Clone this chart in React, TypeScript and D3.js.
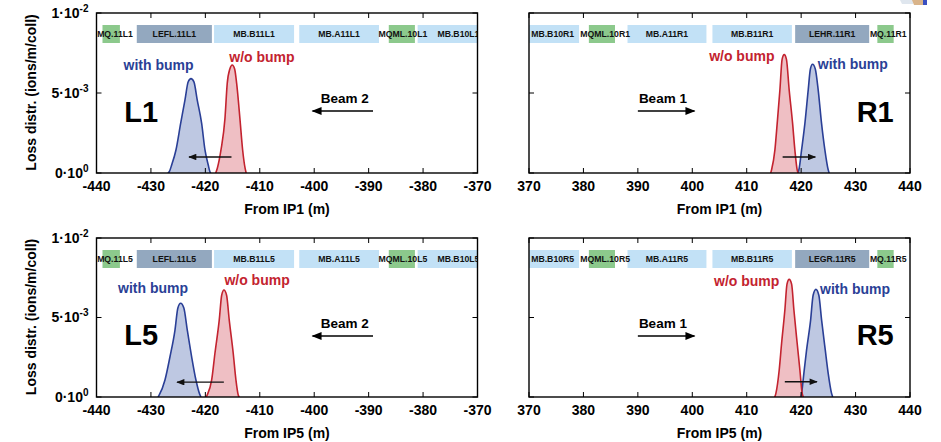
import React from 'react';
import * as d3 from 'd3';

const W = 941;
const H = 442;

// ---- axis ticks ----
const ticksLeft = [-440, -430, -420, -410, -400, -390, -380, -370];
const ticksRight = [370, 380, 390, 400, 410, 420, 430, 440];
const yTickVals = [0, 0.005, 0.01];
const yTickMant = ['0·10', '5·10', '1·10'];
const yTickExp = ['0', '-3', '-2'];

// ---- beamline elements ----
const namesL1 = ['MQ.11L1', 'LEFL.11L1', 'MB.B11L1', 'MB.A11L1', 'MQML.10L1', 'MB.B10L1'];
const namesL5 = ['MQ.11L5', 'LEFL.11L5', 'MB.B11L5', 'MB.A11L5', 'MQML.10L5', 'MB.B10L5'];
const startLeft = [-438.9, -432.6, -418.4, -402.75, -386.3, -381.0];
const endLeft = [-435.7, -418.8, -403.7, -388.1, -381.5, -366.0];
const labelShiftLeft = [0.7, 0, 0, 0, 0.2, 0];
const kindLeft = ['quad', 'absorber', 'dipole', 'dipole', 'quad', 'dipole'];

const namesR1 = ['MB.B10R1', 'MQML.10R1', 'MB.A11R1', 'MB.B11R1', 'LEHR.11R1', 'MQ.11R1'];
const namesR5 = ['MB.B10R5', 'MQML.10R5', 'MB.A11R5', 'MB.B11R5', 'LEGR.11R5', 'MQ.11R5'];
const startRight = [369.5, 381.0, 388.1, 403.7, 418.9, 434.0];
const endRight = [379.2, 385.8, 402.6, 418.3, 432.5, 437.0];
const labelShiftRight = [0, 0.6, 0, 0, 0, 0.5];
const kindRight = ['dipole', 'quad', 'dipole', 'dipole', 'absorber', 'quad'];

// ---- loss distributions (position m, ions/m/coll) ----
const l1WoX = [-418.1, -417.8, -417.13, -416.4, -415.98, -415.5, -415.06, -414.62, -414.25, -413.65, -413.15, -412.7, -412.5];
const l1WoY = [0, 0.0003, 0.00144, 0.0034, 0.0056, 0.0065, 0.00675, 0.0065, 0.0056, 0.0034, 0.00144, 0.0003, 0];
const l1WiX = [-426.9, -426.63, -426.19, -425.4, -424.54, -423.75, -423.15, -422.64, -422.1, -421.49, -420.68, -420.07, -419.47, -419.16, -419.0];
const l1WiY = [0, 0.00008, 0.0005, 0.00144, 0.0031, 0.00456, 0.0057, 0.0059, 0.0057, 0.00456, 0.0031, 0.00144, 0.0005, 0.00008, 0];

const r1WoX = [414.4, 414.57, 415.18, 415.6, 416.1, 416.5, 416.89, 417.3, 417.8, 418.43, 418.85, 419.27, 419.45];
const r1WoY = [0, 0.0002, 0.00144, 0.0031, 0.0052, 0.0071, 0.0074, 0.0071, 0.0052, 0.0031, 0.00144, 0.0002, 0];
const r1WiX = [419.4, 419.59, 420.08, 420.69, 421.3, 421.7, 422.1, 422.6, 423.13, 423.75, 424.36, 424.97, 425.15];
const r1WiY = [0, 0.0002, 0.00144, 0.0031, 0.0052, 0.0065, 0.0068, 0.0065, 0.0052, 0.0031, 0.00144, 0.0002, 0];

const l5WoX = [-419.85, -419.65, -418.84, -418.24, -417.45, -417.0, -416.58, -416.1, -415.61, -414.88, -414.38, -413.96, -413.75];
const l5WoY = [0, 0.00013, 0.00107, 0.00275, 0.00484, 0.0064, 0.00673, 0.0064, 0.00484, 0.00275, 0.00107, 0.00013, 0];
const l5WiX = [-428.7, -428.47, -427.42, -426.5, -425.58, -425.05, -424.54, -423.95, -423.32, -422.52, -421.73, -420.99, -420.8];
const l5WiY = [0, 0.00013, 0.00107, 0.00253, 0.00421, 0.0056, 0.0059, 0.0056, 0.00421, 0.00253, 0.00107, 0.00013, 0];

const r5WoX = [415.15, 415.36, 415.97, 416.41, 417.01, 417.4, 417.8, 418.25, 418.67, 419.27, 419.77, 420.19, 420.4];
const r5WoY = [0, 0.00023, 0.0017, 0.00338, 0.00547, 0.0071, 0.0074, 0.0071, 0.00547, 0.00338, 0.0017, 0.00023, 0];
const r5WiX = [419.85, 420.08, 420.5, 421.0, 421.74, 422.2, 422.71, 423.25, 423.76, 424.43, 424.97, 425.59, 425.8];
const r5WiY = [0, 0.00023, 0.00149, 0.00296, 0.00484, 0.0064, 0.00677, 0.0064, 0.00484, 0.00296, 0.00149, 0.00023, 0];

const FONT = '"Liberation Sans", Arial, Helvetica, sans-serif';
const RED = '#c3232f';
const BLUE = '#2a3f96';
const RED_FILL = 'rgba(224,128,138,0.5)';
const BLUE_FILL = 'rgba(125,145,198,0.5)';
const KIND_COLOR: Record<string, string> = {
  quad: '#8cc98c',
  absorber: '#93a8bf',
  dipole: '#c2e1f6',
};

type PanelCfg = {
  id: string;
  x0: number; x1: number; y0: number; y1: number;
  domain: [number, number];
  ticks: number[];
  names: string[]; starts: number[]; ends: number[]; kinds: string[]; shifts: number[];
  woX: number[]; woY: number[]; wiX: number[]; wiY: number[];
  label: string; labelX: number; labelY: number;
  woLab: [number, number]; wiLab: [number, number];
  beam: string; beamX: number; beamFrom: number; beamTo: number;
  bumpFrom: number; bumpTo: number; bumpY: number;
  xTitle: string; showY: boolean;
};

const panels: PanelCfg[] = [
  {
    id: 'tl', x0: 96.5, x1: 477.5, y0: 13, y1: 173, domain: [-440, -370], ticks: ticksLeft,
    names: namesL1, starts: startLeft, ends: endLeft, kinds: kindLeft, shifts: labelShiftLeft,
    woX: l1WoX, woY: l1WoY, wiX: l1WiX, wiY: l1WiY,
    label: 'L1', labelX: -434.9, labelY: 0.0032,
    woLab: [-409.6, 0.00727], wiLab: [-428.6, 0.00675],
    beam: 'Beam 2', beamX: -394.4, beamFrom: -389.2, beamTo: -400.3,
    bumpFrom: -415.2, bumpTo: -423.0, bumpY: 0.001,
    xTitle: 'From IP1 (m)', showY: true,
  },
  {
    id: 'tr', x0: 529, x1: 910, y0: 13, y1: 173, domain: [370, 440], ticks: ticksRight,
    names: namesR1, starts: startRight, ends: endRight, kinds: kindRight, shifts: labelShiftRight,
    woX: r1WoX, woY: r1WoY, wiX: r1WiX, wiY: r1WiY,
    label: 'R1', labelX: 430.2, labelY: 0.0032,
    woLab: [409.1, 0.0073], wiLab: [429.5, 0.0068],
    beam: 'Beam 1', beamX: 394.6, beamFrom: 390.0, beamTo: 400.4,
    bumpFrom: 416.6, bumpTo: 422.6, bumpY: 0.001,
    xTitle: 'From IP1 (m)', showY: false,
  },
  {
    id: 'bl', x0: 96.5, x1: 477.5, y0: 238, y1: 397, domain: [-440, -370], ticks: ticksLeft,
    names: namesL5, starts: startLeft, ends: endLeft, kinds: kindLeft, shifts: labelShiftLeft,
    woX: l5WoX, woY: l5WoY, wiX: l5WiX, wiY: l5WiY,
    label: 'L5', labelX: -434.9, labelY: 0.0033,
    woLab: [-410.5, 0.00736], wiLab: [-429.6, 0.00686],
    beam: 'Beam 2', beamX: -394.4, beamFrom: -389.2, beamTo: -400.3,
    bumpFrom: -416.6, bumpTo: -425.2, bumpY: 0.00093,
    xTitle: 'From IP5 (m)', showY: true,
  },
  {
    id: 'br', x0: 529, x1: 910, y0: 238, y1: 397, domain: [370, 440], ticks: ticksRight,
    names: namesR5, starts: startRight, ends: endRight, kinds: kindRight, shifts: labelShiftRight,
    woX: r5WoX, woY: r5WoY, wiX: r5WiX, wiY: r5WiY,
    label: 'R5', labelX: 430.2, labelY: 0.0033,
    woLab: [410.0, 0.00731], wiLab: [429.9, 0.00679],
    beam: 'Beam 1', beamX: 394.6, beamFrom: 390.0, beamTo: 400.4,
    bumpFrom: 417.0, bumpTo: 422.9, bumpY: 0.00096,
    xTitle: 'From IP5 (m)', showY: false,
  },
];

function Panel({ p }: { p: PanelCfg }) {
  const x = d3.scaleLinear().domain(p.domain).range([p.x0, p.x1]);
  const y = d3.scaleLinear().domain([0, 0.01]).range([p.y1, p.y0]);
  const curve = d3.curveMonotoneX;
  const area = d3.area<[number, number]>()
    .x(d => x(d[0])).y0(y(0)).y1(d => y(d[1])).curve(curve);
  const line = d3.line<[number, number]>()
    .x(d => x(d[0])).y(d => y(d[1])).curve(curve);
  const wo = p.woX.map((v, i) => [v, p.woY[i]] as [number, number]);
  const wi = p.wiX.map((v, i) => [v, p.wiY[i]] as [number, number]);
  const clipId = `clip-${p.id}`;
  const barTop = p.y0 + 12;
  const barH = 18;
  const tickLen = 5;
  const beamY = y(0.01) + 98;
  return (
    <g>
      <defs>
        <clipPath id={clipId}>
          <rect x={p.x0} y={p.y0} width={p.x1 - p.x0} height={p.y1 - p.y0} />
        </clipPath>
      </defs>
      <g clipPath={`url(#${clipId})`}>
        {p.names.map((n, i) => (
          <rect key={'r' + n} x={x(p.starts[i])} y={barTop}
            width={x(p.ends[i]) - x(p.starts[i])} height={barH}
            fill={KIND_COLOR[p.kinds[i]]} />
        ))}
        {p.names.map((n, i) => (
          <text key={'t' + n} x={x((p.starts[i] + p.ends[i]) / 2 + p.shifts[i])} y={barTop + barH / 2}
            dy="0.35em" textAnchor="middle" fontFamily={FONT} fontWeight="bold"
            fontSize={8.7} fill="#111">{n}</text>
        ))}
        <path d={area(wi) || ''} fill={BLUE_FILL} />
        <path d={line(wi) || ''} fill="none" stroke={BLUE} strokeWidth={1.6} />
        <path d={area(wo) || ''} fill={RED_FILL} />
        <path d={line(wo) || ''} fill="none" stroke={RED} strokeWidth={1.6} />
      </g>
      {/* bump shift arrow */}
      <line x1={x(p.bumpFrom)} y1={y(p.bumpY)} x2={x(p.bumpTo)} y2={y(p.bumpY)}
        stroke="#111" strokeWidth={1.3} markerEnd="url(#headSmall)" />
      {/* labels */}
      <text x={x(p.woLab[0])} y={y(p.woLab[1])} dy="0.35em" textAnchor="middle"
        fontFamily={FONT} fontWeight="bold" fontSize={14} fill={RED}>w/o bump</text>
      <text x={x(p.wiLab[0])} y={y(p.wiLab[1])} dy="0.35em" textAnchor="middle"
        fontFamily={FONT} fontWeight="bold" fontSize={14} fill={BLUE}>with bump</text>
      <text x={x(p.labelX)} y={y(p.labelY)} fontFamily={FONT} fontWeight="bold"
        fontSize={29} fill="#000">{p.label}</text>
      {/* beam direction */}
      <text x={x(p.beamX)} y={beamY - 13} dy="0.35em" textAnchor="middle"
        fontFamily={FONT} fontWeight="bold" fontSize={13.5} fill="#000">{p.beam}</text>
      <line x1={x(p.beamFrom)} y1={beamY} x2={x(p.beamTo)} y2={beamY}
        stroke="#000" strokeWidth={1.6} markerEnd="url(#headBig)" />
      {/* frame */}
      <rect x={p.x0} y={p.y0} width={p.x1 - p.x0} height={p.y1 - p.y0}
        fill="none" stroke="#000" strokeWidth={1.4} />
      {p.ticks.map(t => (
        <g key={'xt' + t}>
          <line x1={x(t)} x2={x(t)} y1={p.y1} y2={p.y1 - tickLen} stroke="#000" strokeWidth={1} />
          <line x1={x(t)} x2={x(t)} y1={p.y0} y2={p.y0 + tickLen} stroke="#000" strokeWidth={1} />
          <text x={x(t)} y={p.y1 + 13} dy="0.35em" textAnchor="middle" fontFamily={FONT}
            fontWeight="bold" fontSize={14} fill="#000">{t}</text>
        </g>
      ))}
      {yTickVals.map((v, i) => (
        <g key={'yt' + v}>
          <line x1={p.x0} x2={p.x0 + tickLen} y1={y(v)} y2={y(v)} stroke="#000" strokeWidth={1} />
          <line x1={p.x1} x2={p.x1 - tickLen} y1={y(v)} y2={y(v)} stroke="#000" strokeWidth={1} />
          {p.showY && (
            <text x={p.x0 - 8} y={y(v)} dy="0.35em" textAnchor="end" fontFamily={FONT}
              fontWeight="bold" fontSize={14} fill="#000">
              {yTickMant[i]}
              <tspan dy={-6} fontSize={10}>{yTickExp[i]}</tspan>
            </text>
          )}
        </g>
      ))}
      <text x={(p.x0 + p.x1) / 2} y={p.y1 + 36} dy="0.35em" textAnchor="middle"
        fontFamily={FONT} fontWeight="bold" fontSize={14} fill="#000">{p.xTitle}</text>
      {p.showY && (
        <text transform={`translate(31.5,${(p.y0 + p.y1) / 2 - 0.5}) rotate(-90)`}
          dy="0.35em" textAnchor="middle" fontFamily={FONT} fontWeight="bold"
          fontSize={14} fill="#000">Loss distr. (ions/m/coll)</text>
      )}
    </g>
  );
}

export default function App() {
  return (
    <svg width={W} height={H} viewBox={`0 0 ${W} ${H}`}
      style={{ position: 'absolute', left: 0, top: 0, background: '#fff' }}>
      <defs>
        <marker id="headBig" viewBox="0 0 10 8" refX={9} refY={4} markerWidth={11}
          markerHeight={8} markerUnits="userSpaceOnUse" orient="auto">
          <path d="M0,0 L10,4 L0,8 Z" fill="#000" />
        </marker>
        <marker id="headSmall" viewBox="0 0 10 8" refX={9} refY={4} markerWidth={9}
          markerHeight={6.5} markerUnits="userSpaceOnUse" orient="auto">
          <path d="M0,0 L10,4 L0,8 Z" fill="#111" />
        </marker>
      </defs>
      <rect x={0} y={0} width={W} height={H} fill="#fff" />
      {panels.map(p => <Panel key={p.id} p={p} />)}
      {/* partial logo at the top-right corner */}
      <path d="M900,0 L915,0 L913,4 L902,4 Z" fill="#dfe6ee" />
      <path d="M912,0 L924,0 L923,5 L914,5 Z" fill="#d9b48a" />
      <rect x={923} y={0} width={4} height={5} fill="#3a4fc0" />
    </svg>
  );
}
